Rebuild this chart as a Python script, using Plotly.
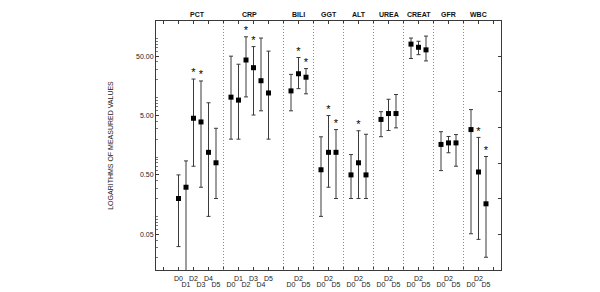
import plotly.graph_objects as go

# ---------------- data ----------------
groups = ["PCT", "CRP", "BILI", "GGT", "ALT", "UREA", "CREAT", "GFR", "WBC"]

pct_days = ["D0", "D1", "D2", "D3", "D4", "D5"]
pct_mean = [0.20, 0.31, 4.5, 3.9, 1.2, 0.80]
pct_low = [0.031, 0.005, 0.70, 0.31, 0.10, 0.20]
pct_high = [0.50, 0.86, 20.6, 19.1, 8.2, 3.05]
pct_sig = [False, False, True, True, False, False]

crp_days = ["D0", "D1", "D2", "D3", "D4", "D5"]
crp_mean = [10.2, 9.1, 43.1, 32.0, 19.3, 12.0]
crp_low = [2.0, 2.0, 10.3, 5.1, 6.0, 2.0]
crp_high = [50.0, 36.6, 106.0, 72.5, 101.0, 60.8]
crp_sig = [False, False, True, True, False, False]

bili_days = ["D0", "D2", "D5"]
bili_mean = [13.0, 25.3, 22.1]
bili_low = [6.0, 14.2, 11.6]
bili_high = [24.7, 47.5, 30.9]
bili_sig = [False, True, True]

ggt_days = ["D0", "D2", "D5"]
ggt_mean = [0.61, 1.2, 1.2]
ggt_low = [0.10, 0.31, 0.20]
ggt_high = [2.19, 5.0, 2.9]
ggt_sig = [False, True, True]

alt_days = ["D0", "D2", "D5"]
alt_mean = [0.50, 0.80, 0.50]
alt_low = [0.20, 0.20, 0.20]
alt_high = [1.10, 2.77, 2.42]
alt_sig = [False, True, False]

urea_days = ["D0", "D2", "D5"]
urea_mean = [4.3, 5.4, 5.4]
urea_low = [2.2, 2.8, 3.1]
urea_high = [5.8, 9.4, 11.3]
urea_sig = [False, False, False]

creat_days = ["D0", "D2", "D5"]
creat_mean = [79.8, 70.6, 63.9]
creat_low = [45.7, 53.0, 41.6]
creat_high = [101.0, 89.1, 109.0]
creat_sig = [False, False, False]

gfr_days = ["D0", "D2", "D5"]
gfr_mean = [1.63, 1.73, 1.73]
gfr_low = [0.59, 1.18, 0.70]
gfr_high = [2.67, 2.22, 2.39]
gfr_sig = [False, False, False]

wbc_days = ["D0", "D2", "D5"]
wbc_mean = [2.9, 0.56, 0.163]
wbc_low = [0.051, 0.041, 0.0205]
wbc_high = [6.3, 2.14, 1.02]
wbc_sig = [False, True, True]

y_ticks = [0.05, 0.5, 5, 50]
y_ticktext = ["0.05", "0.50", "5.00", "50.00"]
y_title = "LOGARITHMS OF MEASURED VALUES"

series = [
    (pct_days, pct_mean, pct_low, pct_high, pct_sig),
    (crp_days, crp_mean, crp_low, crp_high, crp_sig),
    (bili_days, bili_mean, bili_low, bili_high, bili_sig),
    (ggt_days, ggt_mean, ggt_low, ggt_high, ggt_sig),
    (alt_days, alt_mean, alt_low, alt_high, alt_sig),
    (urea_days, urea_mean, urea_low, urea_high, urea_sig),
    (creat_days, creat_mean, creat_low, creat_high, creat_sig),
    (gfr_days, gfr_mean, gfr_low, gfr_high, gfr_sig),
    (wbc_days, wbc_mean, wbc_low, wbc_high, wbc_sig),
]

# ---------------- layout of slots on the x axis ----------------
first_slot = 3
gap_after = {"CRP": 2}

xs, ys, ups, dns, labels = [], [], [], [], []
star_x, star_y = [], []
separators, centers = [], []
pos = first_slot
for g, (days, mean, low, high, sig) in zip(groups, series):
    gx = []
    for d, m, lo, hi, s in zip(days, mean, low, high, sig):
        xs.append(pos)
        ys.append(m)
        ups.append(hi - m)
        dns.append(m - lo)
        labels.append(d)
        gx.append(pos)
        if s:
            star_x.append(pos)
            star_y.append(hi)
        pos += 1
    centers.append(sum(gx) / len(gx))
    sep = gx[-1] + gap_after.get(g, 1)
    separators.append(sep)
    pos = sep + 1
x_max = xs[-1] + 2
separators = separators[:-1]

odd_vals = list(range(1, x_max, 2))
lab_at = dict(zip(xs, labels))
odd_text = [lab_at.get(v, "") for v in odd_vals]
even_vals = [v for v in xs if v % 2 == 0]
even_text = [lab_at[v] for v in even_vals]

FONT = "Liberation Sans, Arial, sans-serif"
LINE = "#3a3a3a"

fig = go.Figure()
fig.add_trace(go.Scatter(
    x=xs, y=ys, mode="markers",
    marker=dict(symbol="square", size=5, color="black"),
    error_y=dict(type="data", symmetric=False, array=ups, arrayminus=dns,
                 color=LINE, thickness=1, width=2),
    showlegend=False, hoverinfo="skip",
))
fig.add_trace(go.Scatter(
    x=star_x, y=star_y, mode="text", text=["*"] * len(star_x),
    textposition="top center", xaxis="x2", yaxis="y2",
    marker=dict(size=1),
    textfont=dict(family=FONT, size=11, color="black"),
    showlegend=False, hoverinfo="skip",
))

ymin, ymax = -1.903, 2.2915
minor_vals = [k * 10 ** e for e in range(-2, 3) for k in range(1, 10)]
right_vals = [50 * 10 ** (-0.6 * k) for k in range(0, 6)]

for s in separators:
    fig.add_shape(type="line", xref="x", yref="paper", x0=s, x1=s, y0=0, y1=1,
                  line=dict(color="#8a8a8a", width=1, dash="1px,2px"))

for g, c in zip(groups, centers):
    fig.add_annotation(x=c, y=1, xref="x", yref="paper", text="<b>%s</b>" % g,
                       showarrow=False, yanchor="bottom", yshift=1,
                       font=dict(family=FONT, size=7, color="#111"))

fig.update_layout(
    width=600, height=292,
    margin=dict(l=148, r=107, t=12, b=20),
    paper_bgcolor="white", plot_bgcolor="white",
    font=dict(family=FONT, size=7, color="#222"),
    xaxis=dict(range=[0, x_max], tickmode="array", tickvals=odd_vals, ticktext=odd_text,
               ticks="inside", ticklen=3, tickcolor=LINE, showline=True, linecolor=LINE,
               linewidth=1, mirror="ticks", showgrid=False, zeroline=False,
               ticklabelstandoff=2,
               tickfont=dict(family=FONT, size=7, color="#222")),
    xaxis2=dict(overlaying="x", matches="x", anchor="y", side="bottom",
                tickmode="array", tickvals=even_vals, ticktext=even_text,
                ticks="", showline=False, showgrid=False, zeroline=False,
                ticklabelstandoff=9,
                tickfont=dict(family=FONT, size=7, color="#222")),
    yaxis=dict(type="log", range=[ymin, ymax], tickmode="array", tickvals=y_ticks,
               ticktext=y_ticktext, ticks="inside", ticklen=3, tickcolor=LINE,
               showline=True, linecolor=LINE, linewidth=1, mirror=True,
               showgrid=False, zeroline=False,
               minor=dict(ticks="inside", ticklen=2, tickcolor="#777",
                          tickmode="array", tickvals=minor_vals, showgrid=False),
               tickfont=dict(family=FONT, size=7, color="#222"),
               title=dict(text=y_title, standoff=21,
                          font=dict(family=FONT, size=7, color="#222"))),
    yaxis2=dict(type="log", overlaying="y", matches="y", side="right", anchor="x",
                tickmode="array", tickvals=right_vals, ticktext=[""] * len(right_vals),
                ticks="inside", ticklen=3, tickcolor=LINE, showline=False,
                showgrid=False, zeroline=False, showticklabels=False),
)

fig.write_html("out.html")
